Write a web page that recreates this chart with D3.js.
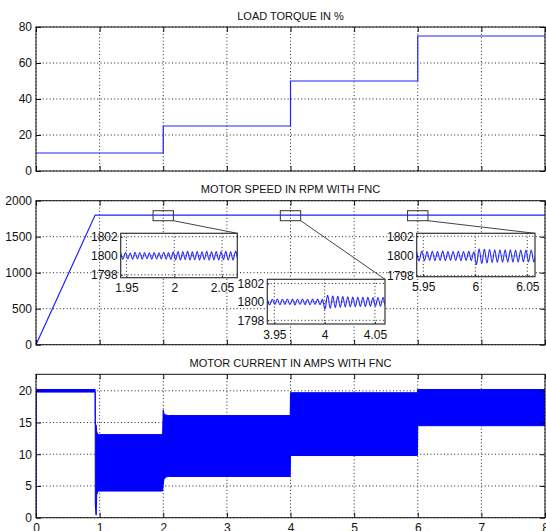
<!DOCTYPE html>
<html>
<head>
<meta charset="utf-8">
<script src="https://cdn.jsdelivr.net/npm/d3@7"></script>
<style>
  body { margin: 0; background: #fff; }
  text { font-family: "Liberation Sans", Arial, sans-serif; font-size: 11px; fill: #111; }
</style>
</head>
<body>
<div id="chart"></div>
<script>
// time axis
var timeTicks = [0, 1, 2, 3, 4, 5, 6, 7, 8]

// load torque (%)
var torqueTime = [0, 2, 2, 4, 4, 6, 6, 8]
var torqueValue = [10, 10, 25, 25, 50, 50, 75, 75]
var torqueTicks = [0, 20, 40, 60, 80]

// motor speed (rpm)
var speedTime = [0, 0.93, 8]
var speedValue = [0, 1800, 1800]
var speedTicks = [0, 500, 1000, 1500, 2000]

// motor current envelope (A)
var currentTime = [0, 0.002, 0.93, 0.932, 0.945, 0.955, 0.975, 1.99, 2.0, 2.01, 2.04, 2.08, 3.995, 4.0, 5.995, 6.0, 8]
var currentHigh = [0, 20.2, 20.2, 14.8, 14.6, 13.5, 13.1, 13.1, 17.0, 16.4, 16.2, 16.1, 16.1, 19.7, 19.7, 20.2, 20.2]
var currentLow = [0, 19.8, 19.8, 2.0, 0.4, 3.6, 4.2, 4.2, 5.2, 6.0, 6.4, 6.5, 6.5, 9.8, 9.8, 14.5, 14.5]
var currentTicks = [0, 5, 10, 15, 20]

// zoomed speed ripple, extrema every half period
var rippleStep = 0.0025
var zoomTicksY = [1798, 1800, 1802]
var zoom1Start = 1.944
var zoom1Ripple = [1800.32, 1799.66, 1800.35, 1799.68, 1800.30, 1799.64, 1800.36, 1799.67, 1800.33, 1799.65,
  1800.34, 1799.69, 1800.31, 1799.64, 1800.35, 1799.66, 1800.32, 1799.68, 1800.36, 1799.65, 1800.33, 1799.62,
  1800.40, 1799.58, 1800.45, 1799.55, 1800.42, 1799.60, 1800.46, 1799.56, 1800.41, 1799.58, 1800.44, 1799.55,
  1800.43, 1799.59, 1800.47, 1799.54, 1800.42, 1799.57, 1800.45, 1799.56, 1800.43, 1799.58, 1800.46, 1799.55,
  1800.42, 1799.57, 1800.44, 1799.56]
var zoom2Start = 3.943
var zoom2Ripple = [1800.30, 1799.70, 1800.28, 1799.72, 1800.31, 1799.69, 1800.29, 1799.71, 1800.32, 1799.70,
  1800.30, 1799.68, 1800.29, 1799.72, 1800.31, 1799.70, 1800.28, 1799.69, 1800.32, 1799.71, 1800.30, 1799.70, 1800.25,
  1799.25, 1800.72, 1799.32, 1800.64, 1799.38, 1800.60, 1799.42, 1800.57, 1799.45, 1800.54, 1799.47, 1800.52,
  1799.48, 1800.51, 1799.50, 1800.50, 1799.51, 1800.49, 1799.52, 1800.48, 1799.52, 1800.48, 1799.53, 1800.47,
  1799.53, 1800.47]
var zoom3Start = 5.9437
var zoom3Ripple = [1800.45, 1799.55, 1800.48, 1799.52, 1800.44, 1799.56, 1800.47, 1799.53, 1800.45, 1799.55,
  1800.49, 1799.52, 1800.44, 1799.56, 1800.46, 1799.54, 1800.48, 1799.53, 1800.45, 1799.55, 1800.47, 1799.54, 1800.40,
  1799.15, 1800.72, 1799.25, 1800.68, 1799.30, 1800.66, 1799.33, 1800.64, 1799.35, 1800.63, 1799.36, 1800.62,
  1799.37, 1800.62, 1799.38, 1800.61, 1799.38, 1800.60, 1799.39, 1800.60, 1799.40, 1800.60, 1799.40, 1800.59, 1799.41]

var width = 546, height = 531
var left = 36, right = 545
var tickFont = "12px"

var svg = d3.select("#chart").append("svg")
  .attr("width", width)
  .attr("height", height)

var clipId = 0

function panel(top, bottom, yDomain, yTicks, title, titleY, showX) {
  var x = d3.scaleLinear().domain([0, 8]).range([left, right])
  var y = d3.scaleLinear().domain(yDomain).range([bottom, top])
  var g = svg.append("g")

  // grid below data
  g.selectAll(".gx").data(timeTicks).enter().append("line")
    .attr("x1", function (d) { return x(d) }).attr("x2", function (d) { return x(d) })
    .attr("y1", top).attr("y2", bottom)
    .attr("stroke", "#222").attr("stroke-dasharray", "1,2.4")
  g.selectAll(".gy").data(yTicks).enter().append("line")
    .attr("y1", function (d) { return y(d) }).attr("y2", function (d) { return y(d) })
    .attr("x1", left).attr("x2", right)
    .attr("stroke", "#222").attr("stroke-dasharray", "1,2.4")

  clipId++
  svg.append("clipPath").attr("id", "clip" + clipId)
    .append("rect").attr("x", left).attr("y", top).attr("width", right - left).attr("height", bottom - top)
  var data = svg.append("g").attr("clip-path", "url(#clip" + clipId + ")")

  var axes = svg.append("g")
  axes.append("g").attr("transform", "translate(" + left + ",0)")
    .call(d3.axisLeft(y).tickValues(yTicks).tickSize(-5).tickPadding(4).tickFormat(d3.format("d")))
  axes.append("g").attr("transform", "translate(" + right + ",0)")
    .call(d3.axisRight(y).tickValues(yTicks).tickSize(-5).tickFormat(""))
  axes.append("g").attr("transform", "translate(0," + top + ")")
    .call(d3.axisTop(x).tickValues(timeTicks).tickSize(-5).tickFormat(""))
  axes.append("g").attr("transform", "translate(0," + bottom + ")")
    .call(d3.axisBottom(x).tickValues(timeTicks).tickSize(-5).tickPadding(6)
      .tickFormat(showX ? d3.format("d") : ""))
  axes.selectAll(".domain").remove()
  axes.selectAll("line").attr("stroke", "#111")
  axes.selectAll("text").attr("fill", "#111").style("font-size", tickFont)
  axes.append("rect").attr("x", left).attr("y", top).attr("width", right - left).attr("height", bottom - top)
    .attr("fill", "none").attr("stroke", "#111")

  svg.append("text").attr("x", (left + right) / 2).attr("y", titleY)
    .attr("text-anchor", "middle").text(title)

  return { x: x, y: y, data: data, axes: axes }
}

// ---- torque
var p1 = panel(27, 171, [0, 80], torqueTicks, "LOAD TORQUE IN %", 20, false)
var torquePts = torqueTime.map(function (t, i) { return [t, torqueValue[i]] })
p1.data.append("path").datum(torquePts)
  .attr("fill", "none").attr("stroke", "#2222ff").attr("stroke-width", 1.2)
  .attr("d", d3.line().x(function (d) { return p1.x(d[0]) }).y(function (d) { return p1.y(d[1]) }))

// ---- speed
var p2 = panel(200.7, 344.7, [0, 2000], speedTicks, "MOTOR SPEED IN RPM WITH FNC", 193, false)
var speedPts = speedTime.map(function (t, i) { return [t, speedValue[i]] })
p2.data.append("path").datum(speedPts)
  .attr("fill", "none").attr("stroke", "#2222ff").attr("stroke-width", 1.2)
  .attr("d", d3.line().x(function (d) { return p2.x(d[0]) }).y(function (d) { return p2.y(d[1]) }))

var zoomBoxHalf = 0.16, zoomBoxLow = 1722, zoomBoxHigh = 1861
var insets = [
  { start: zoom1Start, ripple: zoom1Ripple, center: 2, ticks: [1.95, 2, 2.05], dom: [1.944, 2.066], ydom: [1797.7, 1802.36], box: [120.7, 237.3, 233.3, 277.7] },
  { start: zoom2Start, ripple: zoom2Ripple, center: 4, ticks: [3.95, 4, 4.05], dom: [3.943, 4.06], ydom: [1797.6, 1802.45], box: [267.3, 385, 279.3, 324] },
  { start: zoom3Start, ripple: zoom3Ripple, center: 6, ticks: [5.95, 6, 6.05], dom: [5.9437, 6.0574], ydom: [1797.9, 1802.3], box: [416.7, 535, 233.3, 276.7] }
]

insets.forEach(function (ins, k) {
  var bx0 = p2.x(ins.center - zoomBoxHalf), bx1 = p2.x(ins.center + zoomBoxHalf)
  var by0 = p2.y(zoomBoxHigh), by1 = p2.y(zoomBoxLow)
  var b = ins.box
  svg.append("rect").attr("x", bx0).attr("y", by0).attr("width", bx1 - bx0).attr("height", by1 - by0)
    .attr("fill", "none").attr("stroke", "#333")
  svg.append("line").attr("x1", bx1).attr("y1", by1).attr("x2", b[1]).attr("y2", b[2])
    .attr("stroke", "#444")

  var ix = d3.scaleLinear().domain(ins.dom).range([b[0], b[1]])
  var iy = d3.scaleLinear().domain(ins.ydom).range([b[3], b[2]])
  var g = svg.append("g")
  g.append("rect").attr("x", b[0]).attr("y", b[2]).attr("width", b[1] - b[0]).attr("height", b[3] - b[2])
    .attr("fill", "#fff")
  g.selectAll(".igx").data(ins.ticks).enter().append("line")
    .attr("x1", function (d) { return ix(d) }).attr("x2", function (d) { return ix(d) })
    .attr("y1", b[2]).attr("y2", b[3]).attr("stroke", "#222").attr("stroke-dasharray", "1,2.4")
  g.selectAll(".igy").data(zoomTicksY).enter().append("line")
    .attr("y1", function (d) { return iy(d) }).attr("y2", function (d) { return iy(d) })
    .attr("x1", b[0]).attr("x2", b[1]).attr("stroke", "#222").attr("stroke-dasharray", "1,2.4")

  svg.append("clipPath").attr("id", "iclip" + k)
    .append("rect").attr("x", b[0]).attr("y", b[2]).attr("width", b[1] - b[0]).attr("height", b[3] - b[2])
  var pts = ins.ripple.map(function (v, i) { return [ins.start + i * rippleStep, v] })
  g.append("path").datum(pts).attr("clip-path", "url(#iclip" + k + ")")
    .attr("fill", "none").attr("stroke", "#2a2aff").attr("stroke-width", 1.1)
    .attr("d", d3.line().curve(d3.curveNatural)
      .x(function (d) { return ix(d[0]) }).y(function (d) { return iy(d[1]) }))

  var a = g.append("g")
  a.append("g").attr("transform", "translate(" + b[0] + ",0)")
    .call(d3.axisLeft(iy).tickValues(zoomTicksY).tickSize(-2).tickPadding(3).tickFormat(d3.format("d")))
  a.append("g").attr("transform", "translate(0," + b[3] + ")")
    .call(d3.axisBottom(ix).tickValues(ins.ticks).tickSize(-2).tickPadding(6).tickFormat(d3.format("")))
  a.selectAll(".domain").remove()
  a.selectAll("line").attr("stroke", "#111")
  a.selectAll("text").attr("fill", "#111").style("font-size", tickFont)
  g.append("rect").attr("x", b[0]).attr("y", b[2]).attr("width", b[1] - b[0]).attr("height", b[3] - b[2])
    .attr("fill", "none").attr("stroke", "#333").attr("stroke-width", 1.2)
})

// ---- current
var p3 = panel(374.3, 517.7, [0, 22.6], currentTicks, "MOTOR CURRENT IN AMPS WITH FNC", 367, true)
var currentPts = currentTime.map(function (t, i) { return [t, currentLow[i], currentHigh[i]] })
p3.data.append("path").datum(currentPts)
  .attr("fill", "#0000ff").attr("stroke", "#0000ff").attr("stroke-width", 1)
  .attr("d", d3.area().x(function (d) { return p3.x(d[0]) })
    .y0(function (d) { return p3.y(d[1]) }).y1(function (d) { return p3.y(d[2]) }))
</script>
</body>
</html>
